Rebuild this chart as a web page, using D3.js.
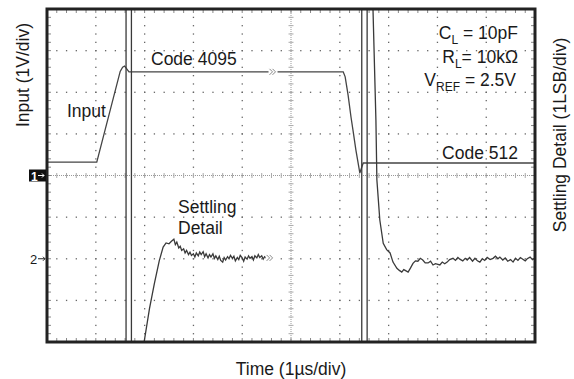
<!DOCTYPE html>
<html>
<head>
<meta charset="utf-8">
<script src="https://cdn.jsdelivr.net/npm/d3@7"></script>
<style>
  body { margin: 0; background: #fff; }
  text { font-family: "Liberation Sans", Arial, sans-serif; fill: #1a1a1a; }
</style>
</head>
<body>
<div id="chart-area"></div>
<script>
// scope shot: time in µs, both traces in divisions (0 = centre line)
const inputT = [0, 1.02, 1.50, 1.55, 1.59, 1.63, 1.68, 6.07, 6.11, 6.17, 6.23, 6.27, 6.33, 6.39, 6.41, 6.45, 6.48, 10];
const inputV = [0.32, 0.32, 2.50, 2.60, 2.63, 2.57, 2.49, 2.49, 2.37, 1.93, 1.40, 1.09, 0.61, 0.20, 0.06, 0.20, 0.30, 0.30];

// settling detail, first step (off screen values are clipped)
const settleAT = [0, 1.62, 1.62, 1.73, 1.73, 1.90, 1.99, 2.10, 2.20, 2.30, 2.38, 2.44, 2.50, 2.55, 2.60,
  2.63, 2.66, 2.70, 2.73, 2.76, 2.80, 2.83, 2.86, 2.90, 2.93, 2.96, 3.00, 3.03, 3.06, 3.10, 3.13, 3.16, 3.20,
  3.23, 3.26, 3.30, 3.33, 3.36, 3.40, 3.43, 3.46, 3.50, 3.53, 3.56, 3.60, 3.63, 3.66, 3.70, 3.73, 3.76, 3.80,
  3.83, 3.86, 3.90, 3.93, 3.96, 4.00, 4.03, 4.06, 4.10, 4.13, 4.16, 4.20, 4.23, 4.26, 4.30, 4.33, 4.36, 4.40,
  4.43, 4.46, 4.50, 4.55];
const settleAV = [-10, -10, 10, 10, -10, -6, -4.0, -3.2, -2.6, -2.05, -1.72, -1.62, -1.64, -1.58, -1.53,
  -1.66, -1.60, -1.74, -1.70, -1.80, -1.76, -1.86, -1.80, -1.90, -1.84, -1.92, -1.88, -1.96, -1.86, -1.93, -1.84,
  -1.90, -1.83, -1.95, -1.88, -1.98, -1.90, -1.96, -1.88, -1.99, -1.93, -2.02, -1.94, -2.04, -2.08, -1.97, -2.03,
  -1.95, -2.00, -1.92, -1.99, -1.94, -2.05, -1.97, -2.02, -1.92, -1.98, -2.06, -1.96, -2.01, -1.93, -1.99, -1.95,
  -2.03, -1.93, -1.98, -1.90, -1.97, -1.93, -2.01, -1.95, -1.99, -1.98];

// settling detail, second step
const settleBT = [6.30, 6.45, 6.45, 6.56, 6.56, 6.66, 6.68, 6.74, 6.76, 6.82, 6.89, 6.96, 7.03, 7.09, 7.17, 7.22,
  7.27, 7.31, 7.34, 7.40, 7.45, 7.50, 7.55, 7.60, 7.65, 7.70, 7.75, 7.81, 7.86, 7.91, 7.96, 8.05, 8.10, 8.15,
  8.20, 8.25, 8.32, 8.37, 8.42, 8.46, 8.52, 8.57, 8.61, 8.66, 8.72, 8.77, 8.82, 8.87, 8.92, 8.97, 9.02, 9.08,
  9.14, 9.19, 9.24, 9.28, 9.34, 9.39, 9.44, 9.50, 9.55, 9.60, 9.65, 9.70, 9.75, 9.80, 9.84, 9.90, 9.95, 10];
const settleBV = [10, 10, -10, -10, 10, 10, 4.0, 1.33, -0.11, -1.07, -1.63, -1.78, -1.86, -2.08, -2.23, -2.28,
  -2.32, -2.26, -2.28, -2.32, -2.22, -2.11, -2.05, -2.06, -1.99, -2.03, -2.10, -2.10, -2.06, -2.15, -2.12, -2.15,
  -2.08, -2.12, -2.08, -2.02, -1.99, -2.04, -1.97, -2.01, -2.05, -1.99, -2.03, -1.97, -2.06, -1.99, -2.05, -2.08,
  -2.00, -2.04, -1.97, -2.02, -1.99, -1.94, -2.00, -1.96, -2.03, -1.98, -2.06, -2.02, -2.08, -1.99, -2.04, -1.97,
  -2.01, -2.05, -2.00, -1.96, -2.02, -1.98];

const margins = { top: 9, right: 39, bottom: 37, left: 47 };
const width = 574 - margins.left - margins.right;
const height = 379 - margins.top - margins.bottom;

const svg = d3.select('#chart-area')
  .append('svg')
  .attr('width', 574)
  .attr('height', 379);

const g = svg.append('g')
  .attr('transform', 'translate(' + margins.left + ', ' + margins.top + ')');

const x = d3.scaleLinear().domain([0, 10]).range([0, width]);
const y = d3.scaleLinear().domain([-4, 4]).range([height, 0]);

// dotted graticule
const minorX = d3.range(0, 10.01, 0.2);
const minorY = d3.range(-4, 4.01, 0.2);

[1, 2, 3, 4, 6, 7, 8, 9].forEach((t) => {
  g.selectAll(null)
    .data(minorY)
    .enter()
    .append('rect')
    .attr('x', x(t) - 0.6)
    .attr('y', (v) => y(v) - 0.6)
    .attr('width', 1.3)
    .attr('height', 1.3)
    .attr('fill', '#666');
});

[-3, -2, -1, 1, 2, 3].forEach((v) => {
  g.selectAll(null)
    .data(minorX)
    .enter()
    .append('rect')
    .attr('x', (t) => x(t) - 0.6)
    .attr('y', y(v) - 0.6)
    .attr('width', 1.3)
    .attr('height', 1.3)
    .attr('fill', '#666');
});

// centre cross with minor ticks
g.append('line')
  .attr('x1', 0).attr('x2', width)
  .attr('y1', y(0)).attr('y2', y(0))
  .attr('stroke', '#999').attr('stroke-dasharray', '1,1');
g.append('line')
  .attr('x1', x(5)).attr('x2', x(5))
  .attr('y1', 0).attr('y2', height)
  .attr('stroke', '#999').attr('stroke-dasharray', '1,1');

g.selectAll('.ctick-x')
  .data(minorX)
  .enter()
  .append('line')
  .attr('x1', (t) => x(t)).attr('x2', (t) => x(t))
  .attr('y1', y(0) - 2.5).attr('y2', y(0) + 2.5)
  .attr('stroke', '#aaa');

g.selectAll('.ctick-y')
  .data(minorY)
  .enter()
  .append('line')
  .attr('x1', x(5) - 2.5).attr('x2', x(5) + 2.5)
  .attr('y1', (v) => y(v)).attr('y2', (v) => y(v))
  .attr('stroke', '#aaa');

// minor ticks inside the frame
g.selectAll('.btick-x')
  .data(minorX)
  .enter()
  .append('path')
  .attr('d', (t) => 'M' + x(t) + ',0v4M' + x(t) + ',' + height + 'v-4')
  .attr('stroke', '#888');

g.selectAll('.btick-y')
  .data(minorY)
  .enter()
  .append('path')
  .attr('d', (v) => 'M0,' + y(v) + 'h4M' + width + ',' + y(v) + 'h-4')
  .attr('stroke', '#888');

// traces
g.append('clipPath')
  .attr('id', 'clip')
  .append('rect')
  .attr('width', width)
  .attr('height', height);

const line = d3.line()
  .x((d) => x(d[0]))
  .y((d) => y(d[1]));

const traces = g.append('g').attr('clip-path', 'url(#clip)');

traces.append('path')
  .datum(d3.zip(inputT, inputV))
  .attr('d', line)
  .attr('fill', 'none')
  .attr('stroke', '#444')
  .attr('stroke-width', 1.3);

traces.append('path')
  .datum(d3.zip(settleAT, settleAV))
  .attr('d', line)
  .attr('fill', 'none')
  .attr('stroke', '#3a3a3a')
  .attr('stroke-width', 1.3);

traces.append('path')
  .datum(d3.zip(settleBT, settleBV))
  .attr('d', line)
  .attr('fill', 'none')
  .attr('stroke', '#3a3a3a')
  .attr('stroke-width', 1.3);

// break marks
function breakMark(t, v) {
  const bx = x(t);
  const by = y(v);
  g.append('rect')
    .attr('x', bx - 1).attr('y', by - 4)
    .attr('width', 9).attr('height', 8)
    .attr('fill', '#fff');
  g.append('path')
    .attr('d', 'M' + bx + ',' + (by - 3) + 'l3,3l-3,3M' + (bx + 3) + ',' + (by - 3) + 'l3,3l-3,3')
    .attr('fill', 'none')
    .attr('stroke', '#888')
    .attr('stroke-width', 1);
}
breakMark(4.56, 2.49);
breakMark(4.50, -1.98);

// frame
g.append('rect')
  .attr('width', width)
  .attr('height', height)
  .attr('fill', 'none')
  .attr('stroke', '#222')
  .attr('stroke-width', 3);

// channel markers
svg.append('rect')
  .attr('x', 29).attr('y', y(0) + margins.top - 6)
  .attr('width', 17).attr('height', 12)
  .attr('fill', '#111');
svg.append('text')
  .attr('x', 31).attr('y', y(0) + margins.top + 5)
  .attr('font-size', 12).attr('font-weight', 'bold')
  .style('fill', '#fff')
  .text('1');
svg.append('path')
  .attr('d', 'M38,' + (y(0) + margins.top) + 'h6m-2,-2l2,2l-2,2')
  .attr('stroke', '#fff').attr('fill', 'none');

svg.append('text')
  .attr('x', 30).attr('y', y(-2) + margins.top + 5)
  .attr('font-size', 13)
  .text('2');
svg.append('path')
  .attr('d', 'M38,' + (y(-2) + margins.top) + 'h7m-2,-2l2,2l-2,2')
  .attr('stroke', '#222').attr('fill', 'none');

// labels
const fs = 17.5;

svg.append('text')
  .attr('transform', 'translate(29, 75) rotate(-90)')
  .attr('text-anchor', 'middle')
  .attr('font-size', fs)
  .text('Input (1V/div)');

svg.append('text')
  .attr('transform', 'translate(566, 135) rotate(-90)')
  .attr('text-anchor', 'middle')
  .attr('font-size', fs)
  .text('Settling Detail (1LSB/div)');

svg.append('text')
  .attr('x', 291).attr('y', 375)
  .attr('text-anchor', 'middle')
  .attr('font-size', fs)
  .text('Time (1µs/div)');

svg.append('text').attr('x', 151).attr('y', 65).attr('font-size', fs).text('Code 4095');
svg.append('text').attr('x', 67).attr('y', 117).attr('font-size', fs).text('Input');
svg.append('text').attr('x', 178).attr('y', 213).attr('font-size', fs).text('Settling');
svg.append('text').attr('x', 178).attr('y', 234).attr('font-size', fs).text('Detail');
svg.append('text').attr('x', 518).attr('y', 159).attr('text-anchor', 'end').attr('font-size', fs).text('Code 512');

function subLabel(xPos, yPos, main, sub, rest) {
  const t = svg.append('text')
    .attr('x', xPos).attr('y', yPos)
    .attr('text-anchor', 'end')
    .attr('font-size', fs);
  t.append('tspan').text(main);
  t.append('tspan').attr('dy', 5).attr('font-size', 12).text(sub);
  t.append('tspan').attr('dy', -5).text(rest);
}
subLabel(518, 39, 'C', 'L', ' = 10pF');
subLabel(518, 63, 'R', 'L', '= 10kΩ');
subLabel(516, 86, 'V', 'REF', ' = 2.5V');
</script>
</body>
</html>
